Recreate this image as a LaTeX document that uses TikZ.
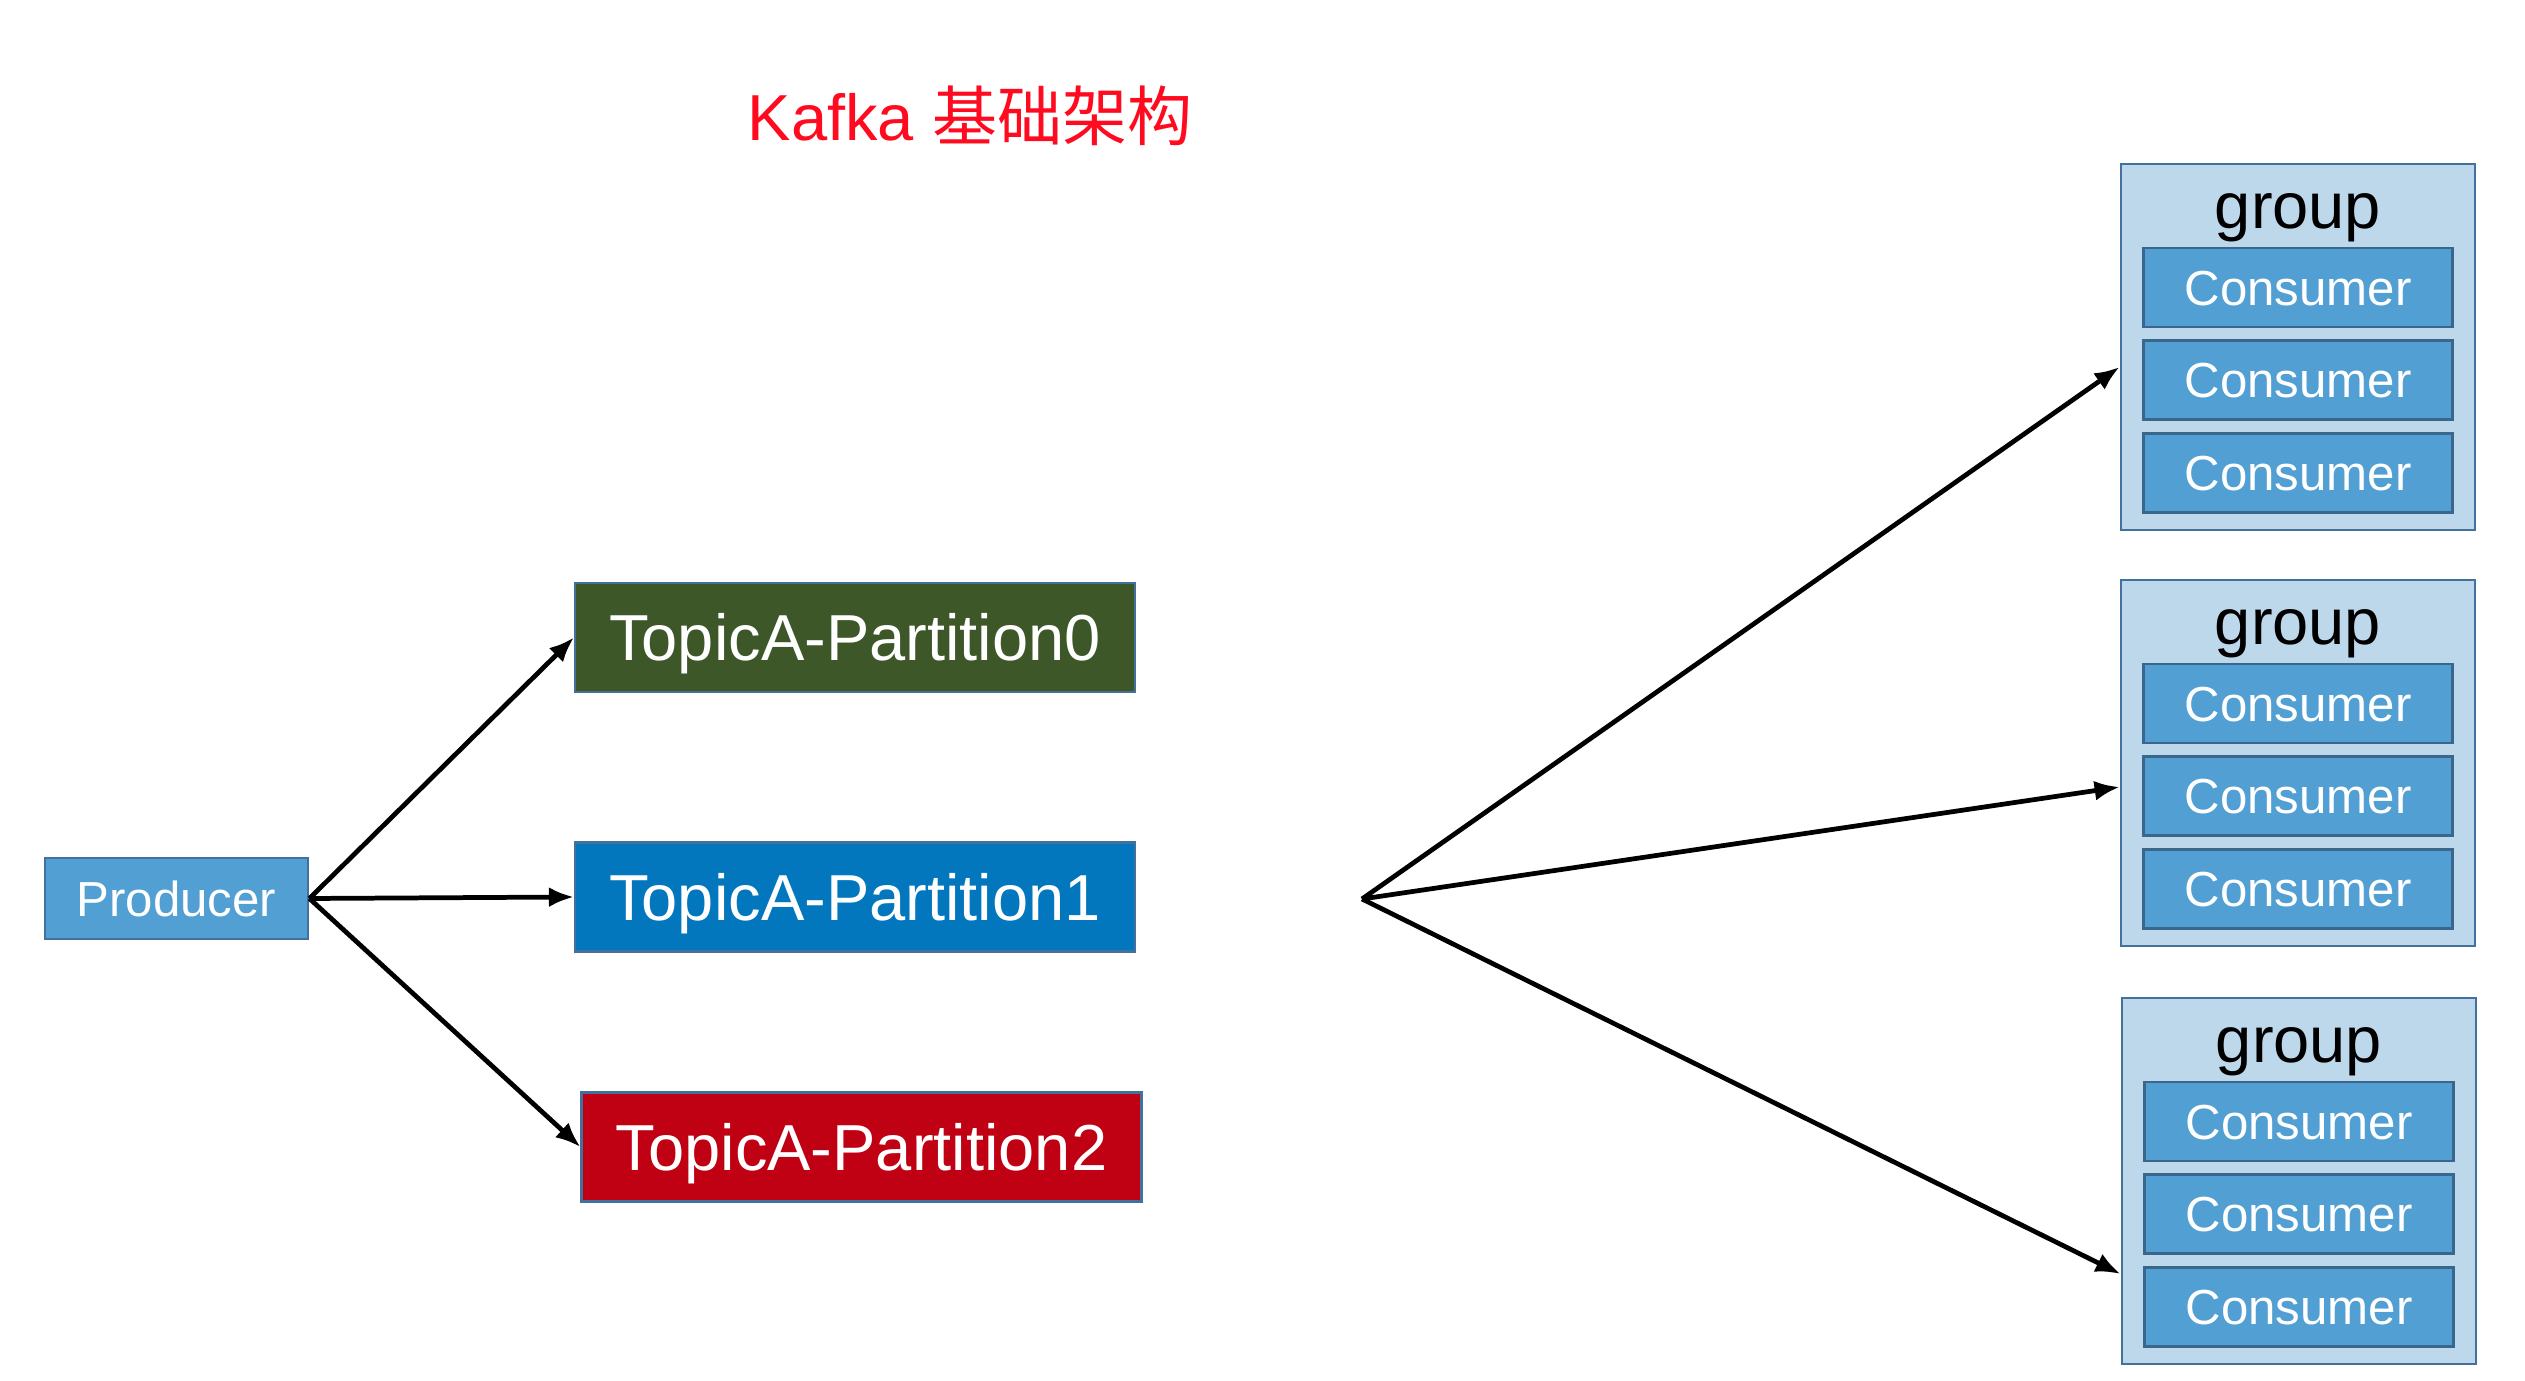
\documentclass[tikz,border=0pt]{standalone}
\usepackage{fontspec}
\setmainfont{Liberation Sans}
\newfontfamily\cjk{Noto Sans CJK SC}
\usepackage{tikz}
\usetikzlibrary{arrows.meta,positioning,calc}
\definecolor{kafkared}{HTML}{FF0A1E}
\definecolor{prodblue}{HTML}{529FD3}
\definecolor{edgeblue}{HTML}{41719C}
\definecolor{partgreen}{HTML}{3D5728}
\definecolor{partblue}{HTML}{0277BD}
\definecolor{partred}{HTML}{C00013}
\definecolor{groupfill}{HTML}{BDD7EB}

\begin{document}
\begin{tikzpicture}[
    font=\fontsize{14pt}{17pt}\selectfont,
    prod/.style={draw=edgeblue,line width=0.8pt,fill=prodblue,text=white,minimum width=2.63cm,minimum height=0.81cm,inner sep=0pt,text height=10pt,text depth=0pt},
    part/.style={draw=edgeblue,line width=0.6pt,text=white,minimum width=5.6cm,minimum height=1.09cm,inner sep=0pt,text height=13.2pt,text depth=0pt,font=\fontsize{18.5pt}{22pt}\selectfont},
    grp/.style={draw=edgeblue,line width=0.8pt,fill=groupfill,minimum width=3.54cm,minimum height=3.66cm,inner sep=0pt},
    grptitle/.style={font=\fontsize{18.5pt}{22pt}\selectfont},
    consumer/.style={draw=edgeblue!90!black,line width=0.8pt,fill=prodblue,text=white,minimum width=3.09cm,minimum height=0.79cm,inner sep=0pt,text height=10pt,text depth=0pt},
    arrow/.style={-{Latex[length=2.5mm,width=2mm]},line width=1.35pt,draw=black}
  ]
    \useasboundingbox (0,0) rectangle (25.25,-13.81);

    \node[text=kafkared,font=\fontsize{18.5pt}{22pt}\selectfont] (title) at (9.70,-1.16) {Kafka {\cjk 基础架构}};

    \node[prod] (prod) at (1.765,-8.985) {Producer};
    \node[part,fill=partgreen] (p0) at (8.55,-6.375) {TopicA-Partition0};
    \node[part,fill=partblue] (p1) at (8.55,-8.97) {TopicA-Partition1};
    \node[part,fill=partred] (p2) at (8.615,-11.47) {TopicA-Partition2};

    \coordinate (hub) at (13.62,-8.99);

    \node[grp] (g1) at (22.98,-3.47) {};
    \node[grptitle] (g1t) at ([yshift=-0.55cm]g1.north) {group};
    \node[consumer,below=0.84cm of g1.north] (g1c1) {Consumer};
    \node[consumer,below=0.11cm of g1c1] (g1c2) {Consumer};
    \node[consumer,below=0.11cm of g1c2] (g1c3) {Consumer};

    \node[grp] (g2) at (22.98,-7.63) {};
    \node[grptitle] (g2t) at ([yshift=-0.55cm]g2.north) {group};
    \node[consumer,below=0.84cm of g2.north] (g2c1) {Consumer};
    \node[consumer,below=0.11cm of g2c1] (g2c2) {Consumer};
    \node[consumer,below=0.11cm of g2c2] (g2c3) {Consumer};

    \node[grp] (g3) at (22.99,-11.81) {};
    \node[grptitle] (g3t) at ([yshift=-0.55cm]g3.north) {group};
    \node[consumer,below=0.84cm of g3.north] (g3c1) {Consumer};
    \node[consumer,below=0.11cm of g3c1] (g3c2) {Consumer};
    \node[consumer,below=0.11cm of g3c2] (g3c3) {Consumer};

    \draw[arrow] (prod.east) -- (p0.west);
    \draw[arrow] (prod.east) -- (p1.west);
    \draw[arrow] (prod.east) -- (p2.west);
    \draw[arrow] (hub) -- ([yshift=-0.2cm]g1.west);
    \draw[arrow] (hub) -- ([yshift=-0.24cm]g2.west);
    \draw[arrow] (hub) -- ([yshift=-0.93cm]g3.west);
  \end{tikzpicture}
\end{document}
